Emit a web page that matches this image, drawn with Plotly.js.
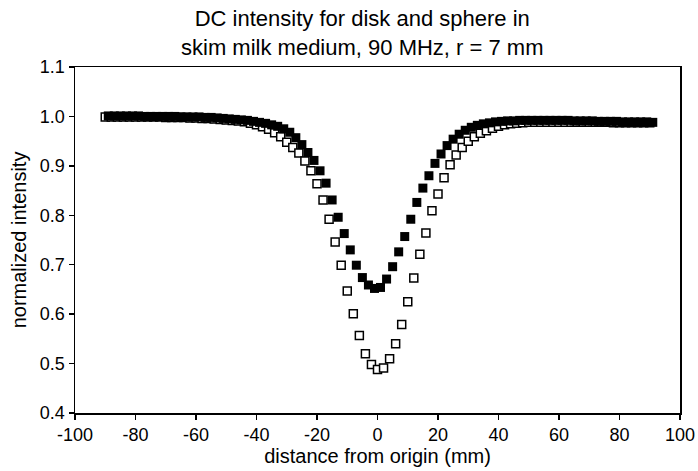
<!DOCTYPE html>
<html>
<head>
<meta charset="utf-8">
<script src="https://cdn.plot.ly/plotly-3.0.1.min.js"></script>
<style>html,body{margin:0;padding:0;background:#fff;}#chart{width:698px;height:471px;}</style>
</head>
<body>
<div id="chart"></div>
<script>
// Disk (open squares): distance (mm) and normalized intensity
const diskX = [-90,-88,-86,-84,-82,-80,-78,-76,-74,-72,-70,-68,-66,-64,-62,-60,-58,-56,-54,-52,-50,-48,-46,-44,-42,-40,-38,-36,-34,-32,-30,-28,-26,-24,-22,-20,-18,-16,-14,-12,-10,-8,-6,-4,-2,0,2,4,6,8,10,12,14,16,18,20,22,24,26,28,30,32,34,36,38,40,42,44,46,48,50,52,54,56,58,60,62,64,66,68,70,72,74,76,78,80,82,84,86,88,90];
const diskY = [0.999,0.999,0.999,0.999,0.999,0.999,0.999,0.999,0.999,0.999,0.998,0.998,0.998,0.998,0.997,0.997,0.996,0.996,0.995,0.994,0.993,0.992,0.991,0.989,0.986,0.983,0.979,0.974,0.967,0.959,0.948,0.937,0.926,0.910,0.890,0.864,0.831,0.792,0.746,0.699,0.647,0.601,0.557,0.520,0.498,0.488,0.491,0.510,0.540,0.579,0.625,0.673,0.721,0.764,0.809,0.843,0.876,0.902,0.922,0.937,0.950,0.959,0.966,0.971,0.976,0.980,0.983,0.985,0.986,0.987,0.988,0.988,0.988,0.988,0.988,0.988,0.988,0.988,0.988,0.988,0.988,0.988,0.988,0.988,0.987,0.987,0.987,0.987,0.987,0.987,0.987];

// Sphere (filled squares)
const sphereX = [-89,-87,-85,-83,-81,-79,-77,-75,-73,-71,-69,-67,-65,-63,-61,-59,-57,-55,-53,-51,-49,-47,-45,-43,-41,-39,-37,-35,-33,-31,-29,-27,-25,-23,-21,-19,-17,-15,-13,-11,-9,-7,-5,-3,-1,1,3,5,7,9,11,13,15,17,19,21,23,25,27,29,31,33,35,37,39,41,43,45,47,49,51,53,55,57,59,61,63,65,67,69,71,73,75,77,79,81,83,85,87,89,91];
const sphereY = [1.001,1.001,1.001,1.001,1.001,1.001,1.000,1.000,1.000,1.000,1.000,1.000,0.999,0.999,0.999,0.999,0.998,0.998,0.997,0.996,0.995,0.994,0.993,0.992,0.990,0.988,0.986,0.983,0.980,0.975,0.968,0.957,0.943,0.927,0.911,0.890,0.865,0.831,0.796,0.763,0.730,0.699,0.674,0.659,0.652,0.654,0.671,0.696,0.726,0.757,0.792,0.826,0.855,0.880,0.905,0.924,0.941,0.954,0.964,0.972,0.978,0.982,0.985,0.987,0.989,0.990,0.991,0.991,0.992,0.992,0.992,0.992,0.992,0.992,0.992,0.992,0.992,0.991,0.991,0.991,0.991,0.990,0.990,0.990,0.990,0.989,0.989,0.989,0.989,0.989,0.988];

const xTicks = [-100,-80,-60,-40,-20,0,20,40,60,80,100];
const yTicks = [0.4,0.5,0.6,0.7,0.8,0.9,1.0,1.1];

const FONT = 'Liberation Sans, Arial, Helvetica, sans-serif';

const traces = [
  {
    x: diskX, y: diskY, type: 'scatter', mode: 'markers', name: 'disk',
    marker: {symbol: 'square', size: 8, color: '#ffffff', line: {color: '#000000', width: 1.5}}
  },
  {
    x: sphereX, y: sphereY, type: 'scatter', mode: 'markers', name: 'sphere',
    marker: {symbol: 'square', size: 9, color: '#000000', line: {width: 0}}
  }
];

const axisCommon = {
  showgrid: false, zeroline: false, showline: true, mirror: true,
  linecolor: '#000', linewidth: 1.5, ticks: 'outside', ticklen: 5,
  tickcolor: '#000', tickwidth: 1.5,
  tickfont: {family: FONT, size: 18, color: '#000'}
};

const layout = {
  width: 698, height: 471,
  margin: {l: 75, r: 18, t: 67, b: 58},
  paper_bgcolor: '#fff', plot_bgcolor: '#fff',
  showlegend: false,
  font: {family: FONT, color: '#000'},
  title: {
    text: 'DC intensity for disk and sphere in<br>skim milk medium, 90 MHz, r = 7 mm',
    font: {family: FONT, size: 22, color: '#000'},
    x: 0.519, xanchor: 'center', xref: 'container',
    y: 0.944, yanchor: 'middle', yref: 'container'
  },
  xaxis: Object.assign({}, axisCommon, {
    range: [-100, 100], tickvals: xTicks, ticktext: xTicks.map(String),
    title: {text: 'distance from origin (mm)', font: {family: FONT, size: 20, color: '#000'}, standoff: 3}
  }),
  yaxis: Object.assign({}, axisCommon, {
    range: [0.4, 1.1], tickvals: yTicks, ticktext: yTicks.map(v => v.toFixed(1)),
    title: {text: 'normalized intensity', font: {family: FONT, size: 20, color: '#000'}, standoff: 8}
  })
};

Plotly.newPlot('chart', traces, layout, {displayModeBar: false, staticPlot: true});
</script>
</body>
</html>
